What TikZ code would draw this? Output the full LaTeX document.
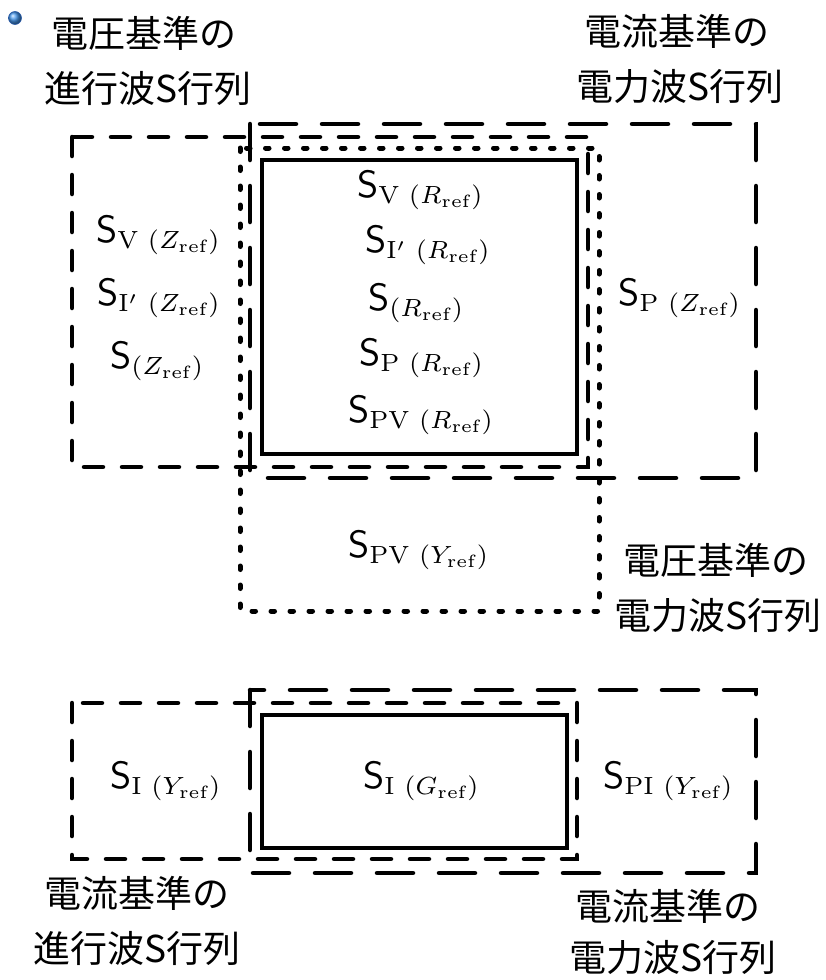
\documentclass[tikz,border=0pt]{standalone}
\usepackage{graphicx}
\usepackage{fontspec}
\newfontfamily\jp{Noto Sans CJK JP}
\newcommand{\Slab}[1]{\scalebox{3.55}{$\mbox{\fontsize{10.7}{11}\selectfont\sffamily S}_{#1}$}}
\tikzset{
  boxline/.style={line width=4.5pt, line cap=round},
  longdash/.style={boxline, dash pattern=on 36pt off 26pt},
  shortdash/.style={boxline, dash pattern=on 19pt off 19pt},
  dotbox/.style={boxline, line width=5pt, dash pattern=on 3.5pt off 15.5pt},
  jlab/.style={font=\jp\fontsize{37}{40}\selectfont, anchor=base, inner sep=0pt},
  slab/.style={font=\normalsize, anchor=base west, inner sep=0pt},
}
\begin{document}
\begin{tikzpicture}[x=1pt, y=-1pt]
\useasboundingbox (0,0) rectangle (825,980);
% bullet
\shade[ball color={rgb,255:red,70;green,150;blue,235}] (15,18) circle (6.5);
\draw[line width=0.6pt, color={rgb,255:red,40;green,90;blue,170}] (15,18) circle (6.5);
% top group
\draw[shortdash] (72,137) rectangle (588,467);
\draw[longdash] (250,124) rectangle (756,478);
\draw[dotbox] (240,148) rectangle (599,611);
\draw[boxline] (262,160) rectangle (577,454);
% bottom group
\draw[shortdash] (72,703) rectangle (577,859);
\draw[longdash] (250,690) rectangle (756,873);
\draw[boxline] (262,715) rectangle (567,848);
% Japanese labels
\node[jlab] (tl1) at (144,47) {電圧基準の};
\node[jlab] (tl2) at (148,102) {進行波S行列};
\node[jlab] (tr1) at (677,45) {電流基準の};
\node[jlab] (tr2) at (680,100) {電力波S行列};
\node[jlab] (mr1) at (716,574) {電圧基準の};
\node[jlab] (mr2) at (718,629) {電力波S行列};
\node[jlab] (bl1) at (137,907) {電流基準の};
\node[jlab] (bl2) at (137,962) {進行波S行列};
\node[jlab] (br1) at (668,920) {電流基準の};
\node[jlab] (br2) at (673,971) {電力波S行列};
% S labels
\node[slab] (svz) at (96,242) {\Slab{\mathrm{V}\mkern6mu(Z_{\mathrm{ref}})}};
\node[slab] (siz) at (97,305) {\Slab{\mathrm{I'}\mkern6mu(Z_{\mathrm{ref}})}};
\node[slab] (sz) at (110,368) {\Slab{(Z_{\mathrm{ref}})}};
\node[slab] (svr) at (357,197) {\Slab{\mathrm{V}\mkern6mu(R_{\mathrm{ref}})}};
\node[slab] (sir) at (365,252) {\Slab{\mathrm{I'}\mkern6mu(R_{\mathrm{ref}})}};
\node[slab] (sr) at (368,310) {\Slab{(R_{\mathrm{ref}})}};
\node[slab] (spr) at (359,365) {\Slab{\mathrm{P}\mkern6mu(R_{\mathrm{ref}})}};
\node[slab] (spvr) at (348,422) {\Slab{\mathrm{PV}\mkern6mu(R_{\mathrm{ref}})}};
\node[slab] (spz) at (618,305) {\Slab{\mathrm{P}\mkern6mu(Z_{\mathrm{ref}})}};
\node[slab] (spvy) at (348,557) {\Slab{\mathrm{PV}\mkern6mu(Y_{\mathrm{ref}})}};
\node[slab] (siy) at (110,788) {\Slab{\mathrm{I}\mkern6mu(Y_{\mathrm{ref}})}};
\node[slab] (sig) at (363,788) {\Slab{\mathrm{I}\mkern6mu(G_{\mathrm{ref}})}};
\node[slab] (spiy) at (603,788) {\Slab{\mathrm{PI}\mkern6mu(Y_{\mathrm{ref}})}};
\end{tikzpicture}
\end{document}
